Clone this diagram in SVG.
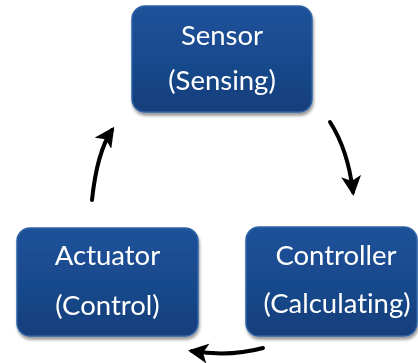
<svg xmlns="http://www.w3.org/2000/svg" width="418" height="363" viewBox="0 0 418 363">
<style>
.box{fill:url(#g);stroke:#2f62a6;stroke-width:1.5}
.lbl{font-family:Lato,"Liberation Sans",sans-serif;font-size:27.5px;fill:#ffffff;text-anchor:middle;font-variant-ligatures:none}
.arr{fill:none;stroke:#000;stroke-width:4;stroke-linecap:round;marker-end:url(#ah)}
</style>
<defs>
<linearGradient id="g" x1="0" y1="0" x2="0" y2="1">
<stop offset="0" stop-color="#1d5299"/>
<stop offset="0.5" stop-color="#194a8e"/>
<stop offset="1" stop-color="#133e7b"/>
</linearGradient>
<filter id="sh" x="-10%" y="-10%" width="120%" height="130%">
<feGaussianBlur in="SourceAlpha" stdDeviation="1.5"/>
<feOffset dx="1" dy="3"/>
<feComponentTransfer><feFuncA type="linear" slope="0.4"/></feComponentTransfer>
<feMerge><feMergeNode/><feMergeNode in="SourceGraphic"/></feMerge>
</filter>
<marker id="ah" markerWidth="5" markerHeight="5" refX="4" refY="2.5" orient="auto" markerUnits="strokeWidth">
<path d="M0,0 L5,2.5 L0,5 L1.2,2.5 z" fill="#000"/>
</marker>
</defs>
<g id="sensor" filter="url(#sh)">
<rect class="box" x="132" y="6" width="180" height="106" rx="13"/>
<text class="lbl" x="222" y="45">Sensor</text>
<text class="lbl" x="222" y="90">(Sensing)</text>
</g>
<g id="controller" filter="url(#sh)">
<rect class="box" x="246" y="227" width="171" height="109" rx="13"/>
<text class="lbl" x="336" y="265">Controller</text>
<text class="lbl" x="337" y="313">(Calculating)</text>
</g>
<g id="actuator" filter="url(#sh)">
<rect class="box" x="17" y="228" width="181" height="108" rx="13"/>
<text class="lbl" x="107.5" y="265">Actuator</text>
<text class="lbl" x="107.5" y="315">(Control)</text>
</g>
<g id="connectors">
<path class="arr" d="M330,122 Q348,150 353,192"/>
<path class="arr" d="M263,348 Q230,357 192,351"/>
<path class="arr" d="M92,200 Q97,152 112,130"/>
</g>
</svg>
